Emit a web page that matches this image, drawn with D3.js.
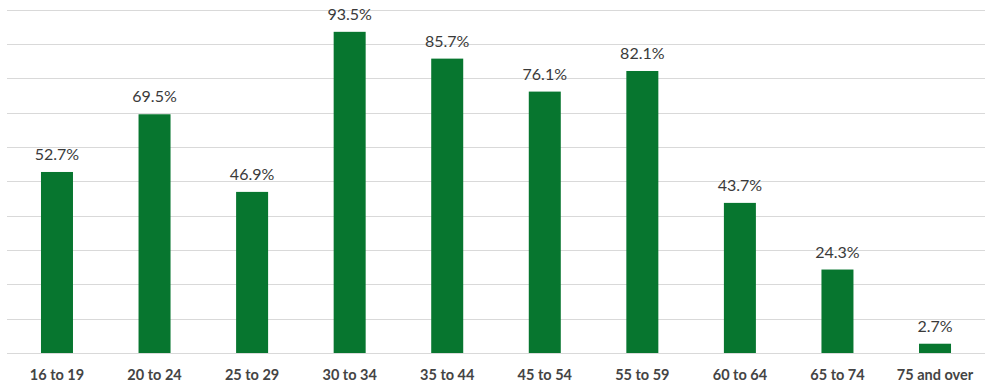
<!DOCTYPE html>
<html><head><meta charset="utf-8">
<script src="https://cdn.jsdelivr.net/npm/d3@7"></script>
<style>body{margin:0;background:#fff;}svg{display:block;}</style>
</head><body>
<svg id="c" width="993" height="389"></svg>
<script>
const categories = ["16 to 19","20 to 24","25 to 29","30 to 34","35 to 44","45 to 54","55 to 59","60 to 64","65 to 74","75 and over"];
const values = [52.7,69.5,46.9,93.5,85.7,76.1,82.1,43.7,24.3,2.7];
const gridTicks = [0,10,20,30,40,50,60,70,80,90,100];

const svg = d3.select("#c");
const x = d3.scaleBand().domain(categories).range([8.2,983.8]).paddingInner(0.672).paddingOuter(0.336);
const y = d3.scaleLinear().domain([0,100]).range([353,9.5]);

svg.append("g").selectAll("line").data(gridTicks).join("line")
  .attr("x1",7).attr("x2",985)
  .attr("y1",d=>Math.round(y(d))+0.5).attr("y2",d=>Math.round(y(d))+0.5)
  .attr("stroke","#d9d9d9").attr("stroke-width",1);

svg.append("g").selectAll("rect").data(values).join("rect")
  .attr("x",(d,i)=>x(categories[i]))
  .attr("width",x.bandwidth())
  .attr("y",d=>y(d))
  .attr("height",d=>y(0)-y(d))
  .attr("fill","#07762f");

svg.append("g").selectAll("text").data(values).join("text")
  .attr("x",(d,i)=>x(categories[i])+x.bandwidth()/2)
  .attr("y",d=>y(d)-12)
  .attr("text-anchor","middle")
  .attr("font-family","Lato, sans-serif")
  .attr("font-size",16)
  .attr("fill","#3a3a3a")
  .text(d=>d.toFixed(1)+"%");

const xAxis = d3.axisBottom(x).tickSize(0).tickPadding(0);
const ax = svg.append("g").attr("transform","translate(0,353)").call(xAxis);
ax.select(".domain").remove();
ax.selectAll("text")
  .attr("dy",0).attr("y",27)
  .attr("font-family","Lato, sans-serif")
  .attr("font-size",14.5)
  .attr("font-weight","bold")
  .attr("fill","#444");
</script>
</body></html>
